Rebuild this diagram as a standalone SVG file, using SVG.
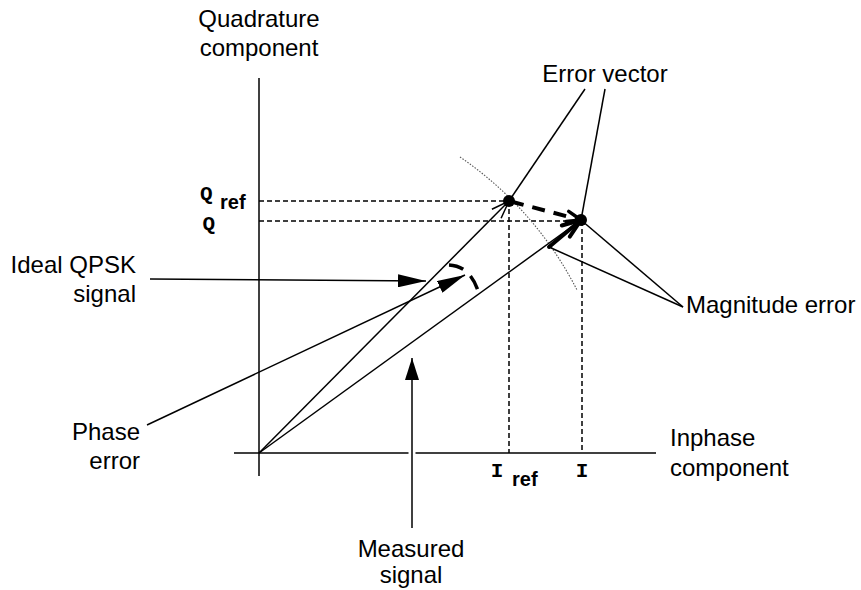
<svg xmlns="http://www.w3.org/2000/svg" width="861" height="590" viewBox="0 0 861 590">
<style>
.t{font-family:"Liberation Sans",Arial,sans-serif;font-size:24px;fill:#000}
.m{font-family:"Liberation Mono","Courier New",monospace;font-size:21px;font-weight:bold;fill:#000}
.s{font-family:"Liberation Sans",Arial,sans-serif;font-size:20px;font-weight:bold;fill:#000}
.ln{stroke:#000;stroke-width:1.5;fill:none}
.dash{stroke:#000;stroke-width:1.5;fill:none;stroke-dasharray:5,3}
</style>
<defs>
<marker id="ah" markerUnits="userSpaceOnUse" markerWidth="28" markerHeight="13" refX="28" refY="6.5" orient="auto">
<path d="M0,0 L28,6.5 L0,13 z" fill="#000"/>
</marker>
<marker id="ahs" markerUnits="userSpaceOnUse" markerWidth="22" markerHeight="14" refX="22" refY="7" orient="auto">
<path d="M0,0 L22,7 L0,14 z" fill="#000"/>
</marker>
</defs>
<rect width="861" height="590" fill="#fff"/>

<g id="axes">
<line class="ln" x1="259" y1="78" x2="259" y2="476"/>
<line class="ln" x1="234" y1="453" x2="656" y2="453"/>
</g>

<g id="projections">
<line class="dash" x1="259" y1="201" x2="509" y2="201"/>
<line class="dash" x1="259" y1="221" x2="581" y2="221"/>
<line class="dash" x1="509" y1="201" x2="509" y2="453"/>
<line class="dash" x1="582" y1="221" x2="582" y2="453"/>
</g>

<path id="circle-arc" d="M460,157 A357,357 0 0,1 577,290" fill="none" stroke="#555" stroke-width="1.1" stroke-dasharray="1.5,1.5"/>

<g id="connectors">
<line class="ln" x1="259" y1="453" x2="509" y2="201"/>
<polyline class="ln" points="491.9,209.2 509,201 501.1,218.3" stroke-width="1.3"/>
<line class="ln" x1="259" y1="453" x2="581" y2="220"/>
<line x1="549" y1="247" x2="581" y2="220" stroke="#000" stroke-width="4" stroke-linecap="round"/>
<polyline points="561.8,225.5 581,220 569.8,236.6" fill="none" stroke="#000" stroke-width="4" stroke-linecap="round" stroke-linejoin="round"/>
<line x1="511" y1="201.5" x2="578" y2="219.3" stroke="#000" stroke-width="4" stroke-dasharray="13,9"/>
<polyline points="568.7,211.4 581,220 566.1,221.4" fill="none" stroke="#000" stroke-width="3.5" stroke-linecap="round" stroke-linejoin="round"/>
<path d="M449,265 Q471,266 479,294" fill="none" stroke="#000" stroke-width="3.5" stroke-dasharray="15,10"/>
<line class="ln" x1="585" y1="89" x2="509" y2="201"/>
<line class="ln" x1="605" y1="89" x2="581" y2="220"/>
<line class="ln" x1="581" y1="220" x2="683" y2="307"/>
<line class="ln" x1="549" y1="247" x2="683" y2="307"/>
<line class="ln" x1="150" y1="279" x2="426" y2="281" marker-end="url(#ah)"/>
<line class="ln" x1="147" y1="425" x2="465" y2="275" marker-end="url(#ah)"/>
<line x1="412" y1="442" x2="412" y2="464" stroke="#fff" stroke-width="7"/>
<line class="ln" x1="412" y1="528" x2="412" y2="358" marker-end="url(#ahs)"/>
</g>

<g id="points">
<circle cx="509" cy="201" r="6" fill="#000"/>
<circle cx="581" cy="220" r="6" fill="#000"/>
</g>

<g id="label-quadrature"><text class="t" x="259" y="27" text-anchor="middle">Quadrature</text><text class="t" x="259" y="56" text-anchor="middle">component</text></g>
<g id="label-inphase"><text class="t" x="670" y="446">Inphase</text><text class="t" x="670" y="476">component</text></g>
<g id="label-error-vector"><text class="t" x="605" y="82" text-anchor="middle">Error vector</text></g>
<g id="label-ideal"><text class="t" x="136" y="273" text-anchor="end">Ideal QPSK</text><text class="t" x="136" y="302" text-anchor="end">signal</text></g>
<g id="label-phase"><text class="t" x="140" y="440" text-anchor="end">Phase</text><text class="t" x="140" y="469" text-anchor="end">error</text></g>
<g id="label-measured"><text class="t" x="411" y="557" text-anchor="middle">Measured</text><text class="t" x="411" y="583" text-anchor="middle">signal</text></g>
<g id="label-magnitude"><text class="t" x="686" y="313">Magnitude error</text></g>
<g id="label-qref"><text class="m" x="200" y="200">Q</text><text class="s" x="220" y="209">ref</text></g>
<g id="label-q"><text class="m" x="215" y="230" text-anchor="end">Q</text></g>
<g id="label-iref"><text class="m" x="497" y="477" text-anchor="middle">I</text><text class="s" x="512" y="486">ref</text></g>
<g id="label-i"><text class="m" x="582" y="477" text-anchor="middle">I</text></g>
</svg>
